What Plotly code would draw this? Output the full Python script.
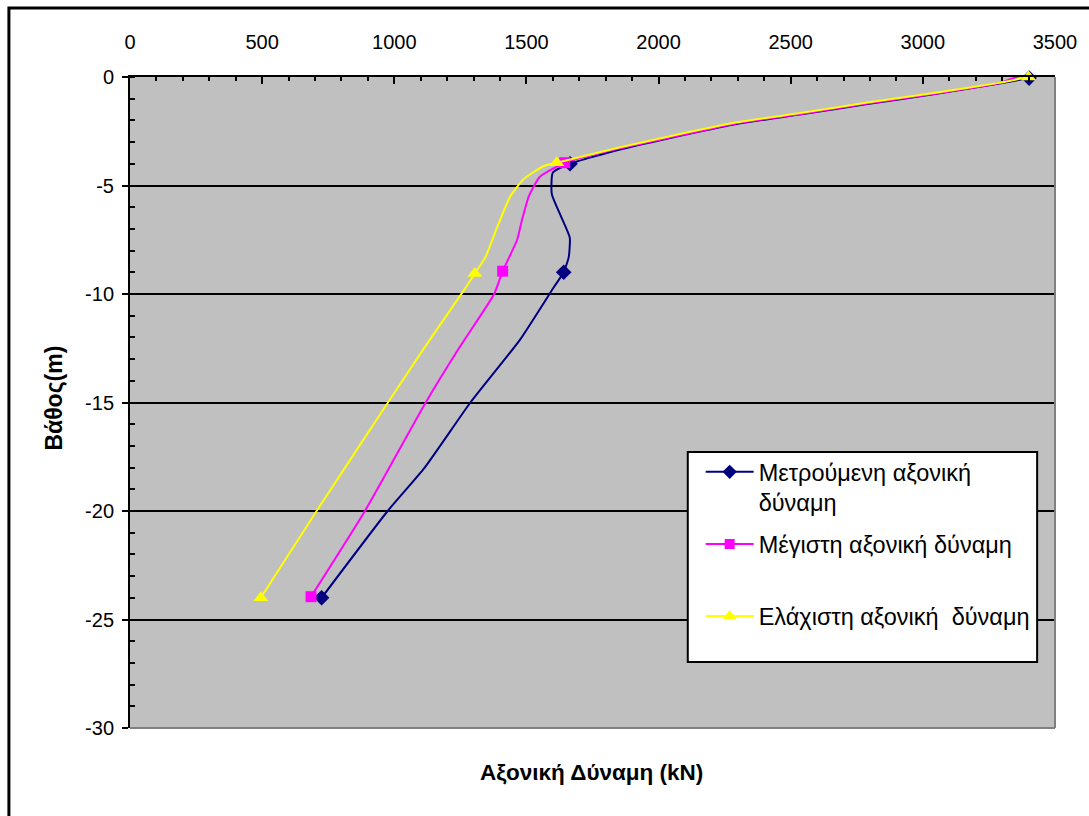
import plotly.graph_objects as go

# ---------------- data ----------------
depth_meas = [-0.05, -0.3, -0.8, -1.25, -1.72, -2.18, -2.82, -3.35, -4.0, -4.4, -5.4, -6.4,
              -7.4, -8.3, -9.0, -9.7, -12.1, -15.0, -18.0, -20.0, -24.0]
force_meas = [3402, 3290, 3040, 2790, 2540, 2290, 2040, 1850, 1665, 1600, 1596, 1630,
              1664, 1660, 1641, 1603, 1476, 1288, 1115, 975, 725]
mk_depth_meas = [-0.05, -4.0, -9.0, -24.0]
mk_force_meas = [3402, 1665, 1641, 725]

depth_max = [0.15, -0.28, -0.78, -1.22, -1.7, -2.15, -2.8, -3.3, -3.95, -4.6, -5.5, -6.6,
             -7.5, -8.95, -10.0, -12.4, -15.0, -20.0, -23.95]
force_max = [3386, 3290, 3040, 2790, 2540, 2290, 2040, 1850, 1645, 1551, 1509, 1483,
             1465, 1410, 1378, 1250, 1119, 889, 685]
mk_depth_max = [0.15, -3.95, -8.95, -23.95]
mk_force_max = [3386, 1645, 1410, 685]

depth_min = [0, -0.26, -0.74, -1.18, -1.65, -2.1, -2.74, -3.25, -3.95, -4.1, -4.7, -5.5,
             -6.9, -8.3, -9.05, -9.8, -12.4, -15.0, -20.0, -24.0]
force_min = [3400, 3293, 3042, 2790, 2542, 2291, 2039, 1851, 1615, 1566, 1490, 1439,
             1390, 1345, 1305, 1265, 1118, 976, 706, 495]
mk_depth_min = [0, -3.95, -9.05, -24.0]
mk_force_min = [3400, 1615, 1305, 495]

names = ["Μετρούμενη αξονική<br>δύναμη",
         "Μέγιστη αξονική δύναμη<br>\u00a0",
         "Ελάχιστη αξονική  δύναμη"]

x_ticks = [0, 500, 1000, 1500, 2000, 2500, 3000, 3500]
y_ticks = [0, -5, -10, -15, -20, -25, -30]
y_ticktext = ["0", "-5", "-10", "-15", "-20", "-25", "-30"]

# ---------------- layout geometry ----------------
W, H = 1089, 816
L, R, T, B = 130, 1062, 77, 728


def px(x):
    return (x - L) / (R - L)


def py(y):
    return (B - y) / (B - T)


FONT = "Arial, Liberation Sans, sans-serif"

series = [
    (force_meas, depth_meas, mk_force_meas, mk_depth_meas, "#000080", "diamond", 12),
    (force_max, depth_max, mk_force_max, mk_depth_max, "#FF00FF", "square", 11),
    (force_min, depth_min, mk_force_min, mk_depth_min, "#FFFF00", "triangle-up", 13),
]

fig = go.Figure()
for i, (fx, dy, mfx, mdy, col, sym, ms) in enumerate(series):
    fig.add_trace(go.Scatter(x=fx, y=dy, mode="lines",
                             line=dict(color=col, width=2, shape="spline", smoothing=0.5),
                             showlegend=False, hoverinfo="skip"))
    fig.add_trace(go.Scatter(x=mfx, y=mdy, mode="markers", cliponaxis=False,
                             marker=dict(color=col, symbol=sym, size=ms, line=dict(width=0)),
                             showlegend=False))
for i, (fx, dy, mfx, mdy, col, sym, ms) in enumerate(series):
    fig.add_trace(go.Scatter(x=[None], y=[None], mode="lines+markers", name=names[i],
                             legendgroup="g%d" % i,
                             line=dict(color=col, width=2),
                             marker=dict(color=col, symbol=sym, size=ms - 1)))

fig.update_layout(
    width=W, height=H,
    margin=dict(l=L, r=W - R, t=T, b=H - B, pad=0),
    paper_bgcolor="white",
    plot_bgcolor="#C0C0C0",
    font=dict(family=FONT, size=20, color="black"),
    showlegend=True,
    legend=dict(x=px(705), y=py(450), xanchor="left", yanchor="top",
                bgcolor="rgba(0,0,0,0)", borderwidth=0,
                font=dict(family=FONT, size=23.5, color="black"),
                valign="top", tracegroupgap=8, itemwidth=48),
    xaxis=dict(side="top", range=[0, 3500], tickvals=x_ticks,
               ticktext=[str(v) for v in x_ticks],
               ticks="inside", ticklen=7, tickwidth=2, tickcolor="black",
               showline=True, linewidth=2, linecolor="black", mirror=False,
               showgrid=False, zeroline=False, ticklabelstandoff=18,
               tickfont=dict(size=20),
               minor=dict(dtick=100, tick0=0, ticks="inside", ticklen=4,
                          tickwidth=1.5, tickcolor="black", showgrid=False)),
    yaxis=dict(range=[-30, 0], tickvals=y_ticks, ticktext=y_ticktext,
               ticks="outside", ticklen=6, tickwidth=2, tickcolor="black",
               showline=True, linewidth=2, linecolor="black", mirror=False,
               showgrid=True, gridcolor="black", gridwidth=2, zeroline=False,
               ticklabelstandoff=4, tickfont=dict(size=20),
               minor=dict(dtick=1, tick0=0, ticks="inside", ticklen=5,
                          tickwidth=1.5, tickcolor="black", showgrid=False)),
    annotations=[
        dict(text="<b>Αξονική Δύναμη (kN)</b>", x=px(595), y=py(772),
             xref="paper", yref="paper", showarrow=False,
             xanchor="center", yanchor="middle", font=dict(size=22.5, family=FONT)),
        dict(text="<b>Βάθος(m)</b>", x=px(53), y=py(398), textangle=-90,
             xref="paper", yref="paper", showarrow=False,
             xanchor="center", yanchor="middle", font=dict(size=23, family=FONT)),
    ],
    shapes=[
        # plot-area border (right & bottom in grey)
        dict(type="line", xref="paper", yref="paper", x0=0, x1=1, y0=0, y1=0,
             line=dict(color="#808080", width=2), layer="above"),
        dict(type="line", xref="paper", yref="paper", x0=1, x1=1, y0=0, y1=1,
             line=dict(color="#808080", width=2), layer="above"),
        # legend box
        dict(type="rect", xref="paper", yref="paper",
             x0=px(692), x1=px(1044), y0=py(662), y1=py(452),
             fillcolor="white", line=dict(color="black", width=2), layer="above"),
        # chart-area border
        dict(type="rect", xref="paper", yref="paper",
             x0=px(8), x1=px(1100), y0=py(830), y1=py(8),
             fillcolor="rgba(0,0,0,0)", line=dict(color="black", width=3), layer="above"),
    ],
)

fig.write_html("out.html")
